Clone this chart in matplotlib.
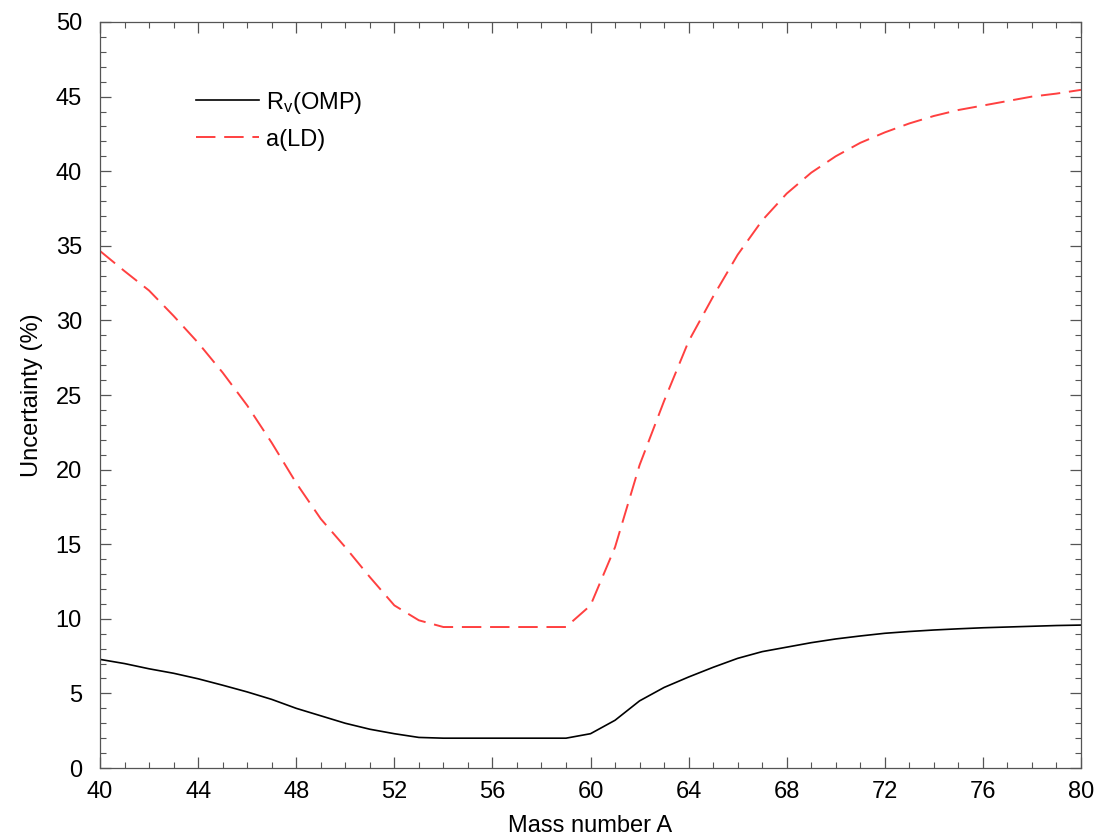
import numpy as np
import matplotlib
matplotlib.use('Agg')
import matplotlib.pyplot as plt
from matplotlib.ticker import MultipleLocator

plt.rcParams['font.family'] = ['Liberation Sans', 'DejaVu Sans']
plt.rcParams['mathtext.fontset'] = 'custom'
plt.rcParams['mathtext.rm'] = 'Liberation Sans'
plt.rcParams['mathtext.it'] = 'Liberation Sans'

# mass number
mass = np.arange(40, 81)

# uncertainty from optical model potential radius R_v (%)
rv_omp = [7.28, 7.0, 6.65, 6.35, 5.98, 5.55, 5.1, 4.6, 4.0, 3.5,
          3.0, 2.6, 2.3, 2.05, 2.0, 2.0, 2.0, 2.0, 2.0, 2.0,
          2.3, 3.2, 4.5, 5.4, 6.1, 6.75, 7.35, 7.8, 8.1, 8.4,
          8.65, 8.85, 9.03, 9.15, 9.25, 9.33, 9.4, 9.45, 9.5, 9.55,
          9.58]

# uncertainty from level density parameter a (%)
a_ld = [34.65, 33.3, 32.0, 30.3, 28.5, 26.5, 24.3, 21.8, 19.1, 16.7,
        14.8, 12.8, 10.9, 9.9, 9.45, 9.45, 9.45, 9.45, 9.45, 9.45,
        10.9, 14.8, 20.3, 24.6, 28.6, 31.6, 34.4, 36.7, 38.5, 39.9,
        41.0, 41.9, 42.6, 43.2, 43.7, 44.1, 44.4, 44.7, 45.0, 45.2,
        45.45]

fig = plt.figure(figsize=(10.97, 8.39), dpi=100)
ax = fig.add_axes([0.0912, 0.0846, 0.8942, 0.8892])

ax.plot(mass, rv_omp, color='black', lw=1.2, label=r'R$_\mathrm{v}$(OMP)')
ax.plot(mass, a_ld, color='#ff4040', lw=1.4, ls=(0, (10, 4.5)), label='a(LD)')

ax.set_xlim(40, 80)
ax.set_ylim(0, 50)
ax.xaxis.set_major_locator(MultipleLocator(4))
ax.xaxis.set_minor_locator(MultipleLocator(1))
ax.yaxis.set_major_locator(MultipleLocator(5))
ax.yaxis.set_minor_locator(MultipleLocator(1))
ax.tick_params(which='both', direction='in', top=True, right=True,
               color='#555555', labelsize=17)
ax.tick_params(axis='x', pad=9)
ax.tick_params(axis='y', pad=13)
ax.tick_params(which='major', length=8, width=0.9)
ax.tick_params(which='minor', length=4, width=0.8)
for s in ax.spines.values():
    s.set_color('#555555')
    s.set_linewidth(0.9)

ax.set_xlabel('Mass number A', fontsize=17, labelpad=9)
ax.set_ylabel('Uncertainty (%)', fontsize=17, labelpad=9)

ax.legend(loc='upper left', bbox_to_anchor=(0.088, 0.922), frameon=False,
          fontsize=17, handlelength=2.67, handletextpad=0.3, labelspacing=0.55,
          borderaxespad=0)

fig.savefig('out.png', dpi=100)
